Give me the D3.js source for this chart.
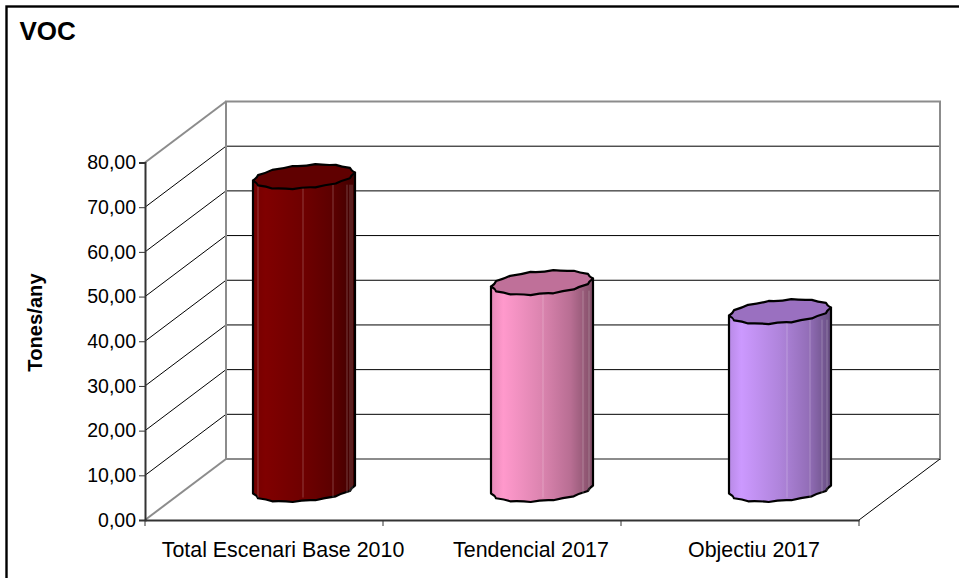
<!DOCTYPE html>
<html>
<head>
<meta charset="utf-8">
<script src="https://cdn.jsdelivr.net/npm/d3@7"></script>
<style>
html,body{margin:0;padding:0;background:#fff}
svg{display:block}
text{font-family:"Liberation Sans",Arial,sans-serif;fill:#000}
</style>
</head>
<body>
<svg id="chart" width="959" height="578"></svg>
<script>
const categories = ["Total Escenari Base 2010", "Tendencial 2017", "Objectiu 2017"];
const values = [70.0, 46.3, 39.8];
const tickValues = [0, 10, 20, 30, 40, 50, 60, 70, 80];
const bodyColors = ["#800000", "#ff99cc", "#cc99ff"];
const capColors = ["#600000", "#bf7099", "#9a70c0"];
const chartTitle = "VOC";
const yTitle = "Tones/any";

const svg = d3.select("#chart");

// Oblique projection: the front plane of the box, plus a depth offset.
const x = d3.scaleBand().domain(categories).range([145, 859]);
const y = d3.scaleLinear().domain([0, 80]).range([520, 162.5]);
const depth = {dx: 81, dy: -61};
const back = v => y(v) + depth.dy;
const fmt = v => v.toFixed(2).replace(".", ",");

// Outer frame; its right and bottom edges run off the page
svg.append("rect").attr("x", 6.5).attr("y", 6.5).attr("width", 1000).attr("height", 600)
  .attr("fill", "#fff").attr("stroke", "#000").attr("stroke-width", 2.4);

// Titles
svg.append("text").attr("x", 19.5).attr("y", 40).attr("font-size", 26).attr("font-weight", "bold").text(chartTitle);
svg.append("text").attr("transform", "translate(41.5,322.5) rotate(-90)").attr("text-anchor", "middle")
  .attr("font-size", 20.2).attr("font-weight", "bold").text(yTitle);

// Gridlines on the side wall and back wall
const gridValues = tickValues.slice(1, -1);
const x0 = x.range()[0], x1 = x.range()[1];
const grid = svg.append("g").attr("stroke", "#000").attr("stroke-width", 1);
gridValues.forEach(v => {
  grid.append("line").attr("x1", x0).attr("y1", y(v)).attr("x2", x0 + depth.dx).attr("y2", back(v));
  grid.append("line").attr("x1", x0 + depth.dx).attr("y1", back(v)).attr("x2", x1 + depth.dx).attr("y2", back(v));
});

// Back wall outline and the gray edges of the side wall
const wall = svg.append("g").attr("stroke", "#8c8c8c").attr("stroke-width", 2).attr("fill", "none");
wall.append("rect").attr("x", x0 + depth.dx).attr("y", back(80))
  .attr("width", x1 - x0).attr("height", back(0) - back(80));
wall.append("line").attr("x1", x0).attr("y1", y(80)).attr("x2", x0 + depth.dx).attr("y2", back(80));
wall.append("line").attr("x1", x0).attr("y1", y(0)).attr("x2", x0 + depth.dx).attr("y2", back(0));
svg.append("line").attr("x1", x1).attr("y1", y(0)).attr("x2", x1 + depth.dx).attr("y2", back(0))
  .attr("stroke", "#000").attr("stroke-width", 1);

// Axes on the front plane
const axisY = svg.append("g").attr("transform", `translate(${x0},0)`)
  .call(d3.axisLeft(y).tickValues(tickValues).tickFormat(fmt).tickSize(6).tickPadding(3));
const axisX = svg.append("g").attr("transform", `translate(0,${y(0)})`)
  .call(d3.axisBottom(x).tickSize(0).tickPadding(22));
[axisY, axisX].forEach(g => {
  g.selectAll("path").attr("stroke", "#333").attr("stroke-width", 2);
  g.selectAll("line").attr("stroke", "#333");
  g.selectAll("text").attr("font-family", '"Liberation Sans",Arial,sans-serif').attr("fill", "#000");
});
axisY.selectAll("text").attr("font-size", 19.5);
axisX.selectAll("text").attr("font-size", 21.4);
// Category labels sit off-centre within their bands
const labelShift = [19, 29, 14];
axisX.selectAll("text").attr("dx", (d, i) => labelShift[i]);
// Category separators below the floor edge
const edgeTicks = x.domain().map(c => x(c)).concat([x1]);
svg.append("g").selectAll("line").data(edgeTicks).join("line")
  .attr("x1", d => d).attr("x2", d => d).attr("y1", y(0)).attr("y2", y(0) + 6)
  .attr("stroke", "#333");

// Cylinders
const radius = 51;
const tilt = 4;     // vertical drift of the rim across its width
const minor = 11.9; // vertical half-height of the rim
const baseY = y(0) - 30.5;
const barX = c => x(c) + x.bandwidth() / 2 + 40;

const defs = svg.append("defs");
categories.forEach((c, i) => {
  const col = d3.color(bodyColors[i]);
  const g = defs.append("linearGradient").attr("id", "bar" + i);
  [[0, .9], [.12, 1], [.5, .86], [.78, .72], [1, .5]].forEach(([o, k]) => {
    const s = d3.rgb(col.r * k, col.g * k, col.b * k);
    g.append("stop").attr("offset", o).attr("stop-color", s.formatHex());
  });
});

const rim = (cx, cy, t) => [
  cx + radius * Math.cos(t),
  cy - tilt * Math.cos(t) + minor * Math.sin(t)
];
// Scalloped rim: chords between coarse vertices, each sagging towards the axis.
const facets = 14;
const sag = 1.6;
function scallop(p, cx, cy, a, b, n) {
  let prev = rim(cx, cy, a);
  for (let k = 1; k <= n; k++) {
    const cur = rim(cx, cy, a + (b - a) * k / n);
    const mx = (prev[0] + cur[0]) / 2, my = (prev[1] + cur[1]) / 2;
    const ux = cx - mx, uy = cy - my, len = Math.hypot(ux, uy) || 1;
    p.quadraticCurveTo(mx + ux / len * sag, my + uy / len * sag, cur[0], cur[1]);
    prev = cur;
  }
}

const streaks = [
  [-46, -1, 29, 43, 46, 48],
  [1, 41, 47],
  [7, 30, 42, 47]
];
categories.forEach((c, i) => {
  const cx = barX(c), topY = y(values[i]) - (y(0) - baseY);
  const g = svg.append("g");

  const body = d3.path();
  body.moveTo(cx + radius, topY - tilt);
  body.lineTo(cx + radius, baseY - tilt);
  scallop(body, cx, baseY, 0, Math.PI, facets / 2);
  body.lineTo(cx - radius, topY + tilt);
  body.closePath();
  g.append("path").attr("d", body.toString())
    .attr("fill", `url(#bar${i})`).attr("stroke", "#000").attr("stroke-width", 2.2).attr("stroke-linejoin", "round");

  g.selectAll(".streak").data(streaks[i]).join("line").attr("class", "streak")
    .attr("x1", d => cx + d).attr("x2", d => cx + d)
    .attr("y1", topY + 8).attr("y2", baseY + 8)
    .attr("stroke", "#fff").attr("stroke-opacity", .24);

  const cap = d3.path();
  const start = rim(cx, topY, 0);
  cap.moveTo(start[0], start[1]);
  scallop(cap, cx, topY, 0, 2 * Math.PI, facets);
  cap.closePath();
  g.append("path").attr("d", cap.toString())
    .attr("fill", capColors[i]).attr("stroke", "#000").attr("stroke-width", 2.2).attr("stroke-linejoin", "round");
});
</script>
</body>
</html>
